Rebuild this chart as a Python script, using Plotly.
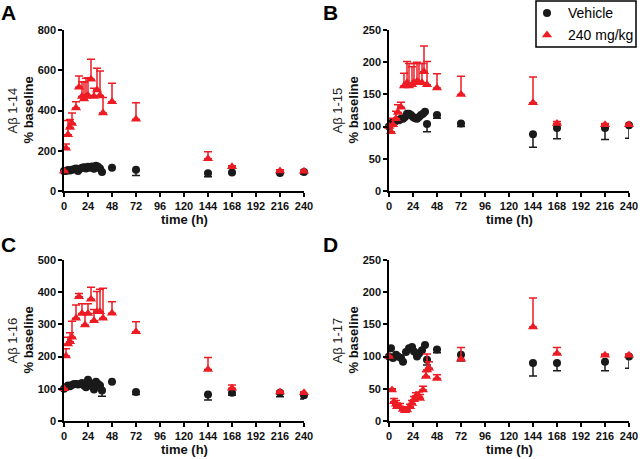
import plotly.graph_objects as go

# ---------------- data ----------------
x_ticks = [0, 24, 48, 72, 96, 120, 144, 168, 192, 216, 240]
series_names = ["Vehicle", "240 mg/kg"]

# Panel A: Abeta 1-14
A_veh_t = [0, 2, 4, 6, 8, 10, 12, 14, 16, 18, 20, 22, 24, 26, 28, 30, 32, 34, 36, 38, 48, 72, 144, 168, 216, 240]
A_veh_y = [100, 100, 104, 102, 106, 108, 112, 100, 110, 115, 118, 112, 120, 115, 122, 110, 125, 120, 112, 95, 115, 105, 88, 92, 90, 95]
A_veh_e = [0, 0, 0, 0, 0, 0, 0, 0, 0, 0, 0, 0, 0, 0, 0, 0, 0, 0, 0, 0, 0, 28, 17, 3, 3, 10]
A_drug_t = [0, 2, 4, 6, 8, 12, 15, 18, 20, 22, 24, 27, 30, 33, 36, 39, 48, 72, 144, 168, 216, 240]
A_drug_y = [100, 212, 280, 315, 335, 412, 515, 470, 457, 470, 475, 555, 470, 502, 475, 387, 444, 357, 160, 120, 100, 98]
A_drug_e = [0, 22, 70, 40, 52, 32, 56, 73, 85, 90, 88, 100, 40, 108, 121, 78, 91, 82, 35, 5, 5, 5]

# Panel B: Abeta 1-15
B_veh_t = [0, 2, 4, 6, 8, 10, 12, 14, 16, 18, 20, 22, 24, 26, 28, 30, 32, 34, 36, 38, 48, 72, 144, 168, 216, 240]
B_veh_y = [100, 105, 107, 108, 110, 110, 112, 112, 115, 120, 120, 118, 115, 113, 112, 115, 118, 120, 123, 104, 118, 105, 88, 98, 98, 102]
B_veh_e = [0, 0, 0, 0, 0, 0, 0, 0, 0, 0, 0, 0, 0, 0, 0, 0, 0, 0, 0, 12, 5, 5, 20, 17, 18, 20]
B_drug_t = [0, 2, 4, 7, 9, 12, 15, 18, 20, 23, 25, 28, 30, 33, 35, 38, 48, 72, 144, 168, 216, 240]
B_drug_y = [100, 92, 103, 112, 122, 130, 163, 168, 163, 165, 168, 170, 168, 168, 185, 165, 160, 150, 137, 105, 103, 103]
B_drug_e = [0, 8, 10, 12, 12, 8, 20, 33, 35, 28, 30, 30, 30, 30, 40, 36, 22, 28, 40, 3, 2, 2]

# Panel C: Abeta 1-16
C_veh_t = [0, 2, 4, 6, 8, 10, 12, 14, 16, 18, 20, 22, 24, 26, 28, 30, 32, 34, 36, 38, 48, 72, 144, 168, 216, 240]
C_veh_y = [100, 105, 110, 108, 112, 115, 115, 113, 115, 118, 110, 105, 128, 118, 108, 98, 122, 115, 110, 95, 122, 90, 82, 88, 88, 80]
C_veh_e = [0, 0, 0, 0, 0, 0, 0, 0, 0, 0, 0, 0, 0, 0, 0, 0, 0, 0, 0, 18, 0, 8, 17, 8, 13, 12]
C_drug_t = [0, 2, 4, 6, 8, 12, 15, 18, 21, 24, 27, 30, 33, 36, 39, 48, 72, 144, 168, 216, 240]
C_drug_y = [100, 202, 239, 246, 260, 319, 386, 334, 298, 334, 378, 311, 339, 339, 319, 335, 277, 160, 102, 90, 88]
C_drug_e = [0, 22, 21, 28, 50, 41, 10, 30, 38, 30, 37, 35, 63, 70, 93, 35, 31, 37, 10, 3, 3]

# Panel D: Abeta 1-17
D_veh_t = [0, 2, 4, 7, 9, 12, 14, 17, 20, 23, 25, 28, 30, 33, 36, 38, 48, 72, 144, 168, 216, 240]
D_veh_y = [100, 113, 98, 103, 100, 98, 92, 107, 113, 115, 108, 100, 105, 110, 118, 95, 111, 103, 90, 90, 92, 100]
D_veh_e = [0, 0, 0, 0, 0, 0, 0, 0, 0, 0, 0, 0, 0, 0, 0, 8, 5, 10, 20, 12, 14, 18]
D_drug_t = [0, 3, 5, 7, 8, 11, 14, 16, 18, 21, 23, 25, 27, 30, 31, 34, 37, 38, 40, 48, 72, 144, 168, 216, 240]
D_drug_y = [100, 48, 30, 26, 22, 22, 18, 16, 17, 22, 27, 33, 39, 38, 35, 48, 69, 79, 82, 66, 96, 146, 105, 102, 102]
D_drug_e = [0, 2, 5, 6, 6, 5, 4, 4, 4, 4, 5, 5, 5, 7, 6, 6, 8, 25, 10, 6, 18, 45, 9, 2, 2]

panels = [
    ("A", "Aβ 1-14", 800, 200, (A_veh_t, A_veh_y, A_veh_e), (A_drug_t, A_drug_y, A_drug_e)),
    ("B", "Aβ 1-15", 250, 50, (B_veh_t, B_veh_y, B_veh_e), (B_drug_t, B_drug_y, B_drug_e)),
    ("C", "Aβ 1-16", 500, 100, (C_veh_t, C_veh_y, C_veh_e), (C_drug_t, C_drug_y, C_drug_e)),
    ("D", "Aβ 1-17", 250, 50, (D_veh_t, D_veh_y, D_veh_e), (D_drug_t, D_drug_y, D_drug_e)),
]

# ---------------- layout geometry (pixels) ----------------
W, H = 640, 459
RED = "#ED1C24"
BLACK = "#1a1a1a"
FONT = "Liberation Sans, Arial, sans-serif"

boxes = [(64, 304, 30, 191), (389, 629, 30, 191), (64, 304, 260, 421), (389, 629, 260, 421)]
letter_pos = [(0, 0), (322, 0), (0, 232), (322, 232)]


def px(x, y):
    return x / W, (H - y) / H


fig = go.Figure()
annotations = []
shapes = []
layout_axes = {}

for i, (letter, ylab, ymax, ydt, veh, drug) in enumerate(panels):
    n = "" if i == 0 else str(i + 1)
    xa, ya = "x" + n, "y" + n
    xl, xr, yt, yb = boxes[i]
    xdom = [xl / W, xr / W]
    ydom = [(H - yb) / H, (H - yt) / H]
    ax_common = dict(showline=True, linecolor="black", linewidth=1.6, ticks="outside",
                     ticklen=4, tickwidth=1.5, tickcolor="black", showgrid=False, zeroline=False,
                     automargin=False,
                     tickfont=dict(family=FONT, size=11, color="#111", weight="bold"),
                     fixedrange=True)
    layout_axes["xaxis" + n] = dict(domain=xdom, range=[0, 240], tickvals=x_ticks,
                                    anchor=ya, **ax_common)
    layout_axes["yaxis" + n] = dict(domain=ydom, range=[0, ymax], dtick=ydt, tick0=0,
                                    anchor=xa, **ax_common)

    vt, vy, ve = veh
    dt, dy, de = drug
    fig.add_trace(go.Scatter(
        x=vt, y=vy, mode="markers", name=series_names[0], xaxis=xa, yaxis=ya,
        marker=dict(symbol="circle", size=8, color=BLACK),
        error_y=dict(type="data", symmetric=False, array=[0] * len(ve), arrayminus=ve,
                     color=BLACK, thickness=1.5, width=4),
        cliponaxis=False, showlegend=False))
    fig.add_trace(go.Scatter(
        x=dt, y=dy, mode="markers", name=series_names[1], xaxis=xa, yaxis=ya,
        marker=dict(symbol="triangle-up", size=9, color=RED),
        error_y=dict(type="data", symmetric=False, array=de, arrayminus=[0] * len(de),
                     color=RED, thickness=1.5, width=4),
        cliponaxis=False, showlegend=False))

    cx, cy = px((xl + xr) / 2, yb + 28)
    annotations.append(dict(text="<b>time (h)</b>", x=cx, y=cy,
                            xref="paper", yref="paper", showarrow=False,
                            font=dict(family=FONT, size=13, color="#111"),
                            xanchor="center", yanchor="middle"))
    ax1, ay1 = px(xl - 52, (yt + yb) / 2)
    annotations.append(dict(text=ylab, x=ax1, y=ay1,
                            xref="paper", yref="paper", showarrow=False, textangle=-90,
                            font=dict(family=FONT, size=13, color="#222"),
                            xanchor="center", yanchor="middle"))
    ax2, ay2 = px(xl - 36, (yt + yb) / 2)
    annotations.append(dict(text="<b>% baseline</b>", x=ax2, y=ay2,
                            xref="paper", yref="paper", showarrow=False, textangle=-90,
                            font=dict(family=FONT, size=13, color="#111"),
                            xanchor="center", yanchor="middle"))
    lx, ly = px(*letter_pos[i])
    annotations.append(dict(text="<b>" + letter + "</b>", x=lx, y=ly,
                            xref="paper", yref="paper", showarrow=False,
                            font=dict(family=FONT, size=21, color="black"),
                            xanchor="left", yanchor="top", borderpad=0))

# ---------------- manual legend (top right) ----------------
lx0, ly0 = px(536, 1)
lx1, ly1 = px(636, 47)
shapes.append(dict(type="rect", xref="paper", yref="paper", x0=lx0, y0=ly0, x1=lx1, y1=ly1,
                   line=dict(color="black", width=1.5), fillcolor="rgba(0,0,0,0)", layer="above"))
legend_rows = [(13, "circle", 8, BLACK), (35, "triangle-up", 9, RED)]
layout_axes["xaxis5"] = dict(domain=[0, 1], range=[0, W], visible=False, fixedrange=True, anchor="y5")
layout_axes["yaxis5"] = dict(domain=[0, 1], range=[H, 0], visible=False, fixedrange=True, anchor="x5")
for (ry, sym, sz, col), name in zip(legend_rows, series_names):
    fig.add_trace(go.Scatter(x=[547], y=[ry], mode="markers", xaxis="x5", yaxis="y5",
                             marker=dict(symbol=sym, size=sz, color=col),
                             showlegend=False, hoverinfo="skip", cliponaxis=False))
    tx, ty = px(566, ry)
    annotations.append(dict(text=name, x=tx, y=ty, xref="paper", yref="paper",
                            showarrow=False, xanchor="left", yanchor="middle",
                            font=dict(family=FONT, size=14, color="black")))

fig.update_layout(
    width=W, height=H, margin=dict(l=0, r=0, t=0, b=0),
    paper_bgcolor="white", plot_bgcolor="rgba(0,0,0,0)",
    annotations=annotations, shapes=shapes, showlegend=False,
    **layout_axes)

fig.write_html("out.html", config={"displayModeBar": False},
               post_script="document.body.style.margin='0px';document.body.style.padding='0px';")
